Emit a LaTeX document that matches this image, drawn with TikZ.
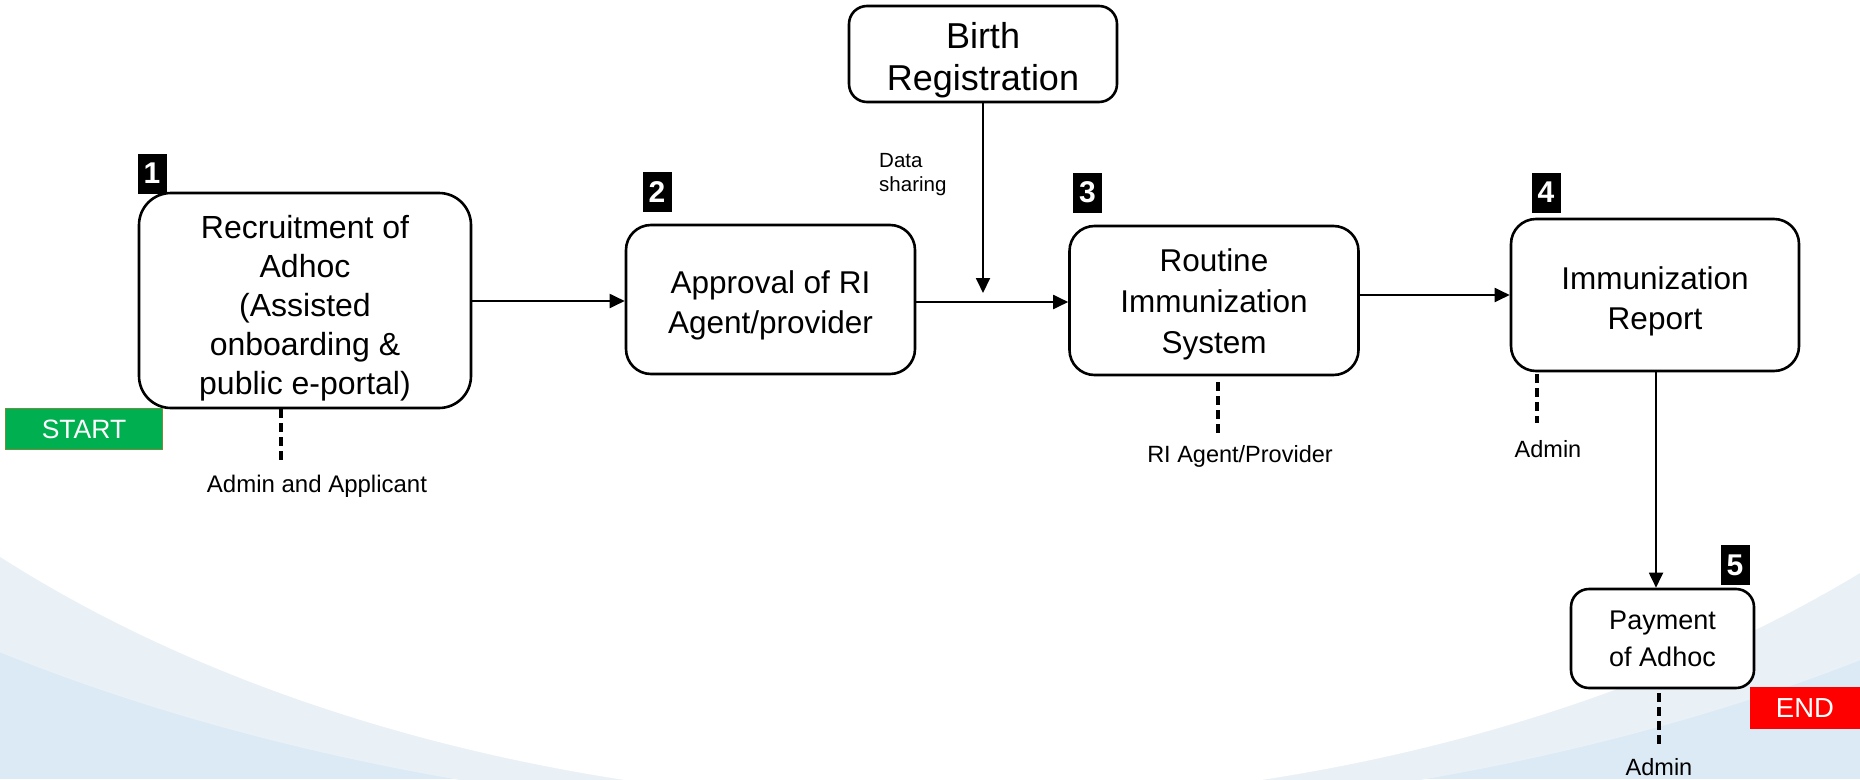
\documentclass[tikz,border=0pt]{standalone}
\usepackage{fontspec}
\setmainfont{Liberation Sans}
\usetikzlibrary{arrows.meta}
\definecolor{bandlight}{HTML}{E9F1F7}
\definecolor{banddark}{HTML}{DCEAF5}
\definecolor{startgreen}{HTML}{00B050}
\definecolor{startborder}{HTML}{6F8F3C}
\begin{document}
\begin{tikzpicture}[x=1pt,y=-1pt,
  procbox/.style={draw=black, line width=2.6pt, fill=white, inner sep=0pt},
  boxtext/.style={align=center, inner sep=0pt, font=\fontsize{31.5}{40}\selectfont},
  badge/.style={fill=black, text=white, inner sep=0pt, minimum width=29pt, minimum height=40pt,
    font=\fontsize{30}{30}\selectfont\bfseries},
  lbl/.style={inner sep=0pt, font=\fontsize{23.5}{27}\selectfont},
  flow/.style={line width=1.9pt, -{Triangle[length=15pt,width=14pt]}},
  role/.style={line width=3.5pt, dash pattern=on 9pt off 5pt},
  tag/.style={inner sep=0pt, text=white}]
\useasboundingbox (0,0) rectangle (1860,779);
% background bands
\fill[banddark] (0,0) rectangle (1860,779);
\fill[bandlight] (940,0) ellipse [x radius=1551, y radius=820];
\fill[white] (943,0) ellipse [x radius=1307, y radius=804];
% process boxes
\node[procbox, rounded corners=32pt, minimum width=332pt, minimum height=215pt] (b1) at (305,300.5) {};
\node[boxtext, font=\fontsize{32}{39}\selectfont] (t1) at ([yshift=-8pt]b1.center)
  {Recruitment of\\Adhoc\\(Assisted\\onboarding \&\\public e-portal)};
\node[procbox, rounded corners=25pt, minimum width=289pt, minimum height=149pt] (b2) at (770.5,299.5) {};
\node[boxtext] (t2) at ([yshift=-6pt]b2.center) {Approval of RI\\Agent/provider};
\node[procbox, rounded corners=25pt, minimum width=289pt, minimum height=149pt] (b3) at (1214,300.5) {};
\node[boxtext, font=\fontsize{31.5}{41}\selectfont] (t3) at ([yshift=-4pt]b3.center) {Routine\\Immunization\\System};
\node[procbox, rounded corners=25pt, minimum width=288pt, minimum height=152pt] (b4) at (1655,295) {};
\node[boxtext] (t4) at ([yshift=-6pt]b4.center) {Immunization\\Report};
\node[procbox, rounded corners=18pt, minimum width=268pt, minimum height=96pt] (birth) at (983,54) {};
\node[boxtext, font=\fontsize{36}{42}\selectfont] (tb) at ([yshift=-6pt]birth.center) {Birth\\Registration};
\node[procbox, rounded corners=18pt, minimum width=183pt, minimum height=99pt] (b5) at (1662.5,638.5) {};
\node[boxtext, font=\fontsize{27}{37}\selectfont] (t5) at (b5.center) {Payment\\of Adhoc};
% badges
\node[badge] (n1) at (152,173.5) {1};
\node[badge] (n2) at (657,192) {2};
\node[badge] (n3) at (1087.5,192.5) {3};
\node[badge] (n4) at (1546,192.5) {4};
\node[badge] (n5) at (1735,565) {5};
% start / end
\node[tag, fill=startgreen, draw=startborder, line width=1.5pt, minimum width=157pt, minimum height=41pt,
  font=\fontsize{26.5}{26.5}\selectfont] (start) at (84,429) {START};
\node[tag, fill=red, minimum width=111pt, minimum height=42pt,
  font=\fontsize{27.5}{27.5}\selectfont] (end) at (1805,708) {END};
% flows
\draw[flow] (b1.east |- 0,301) -- (b2.west |- 0,301);
\draw[flow] (b2.east |- 0,302) -- (b3.west |- 0,302);
\coordinate (join) at (983,293);
\draw[flow] (birth.south) -- (join);
\draw[flow] (b3.east |- b4.west) -- (b4.west);
\draw[flow] (b4.south -| 1656,0) -- (b5.north -| 1656,0);
% data sharing label
\node[lbl, font=\fontsize{20.5}{24}\selectfont, align=left, anchor=west] (ds) at (879,175) {Data\\sharing};
% roles
\coordinate (r1a) at (281,409); \coordinate (r1b) at (281,460);
\draw[role] (r1a) -- (r1b);
\node[lbl, font=\fontsize{24}{27}\selectfont] (l1) at (317,486) {Admin and Applicant};
\coordinate (r3a) at (1218,382); \coordinate (r3b) at (1218,434);
\draw[role] (r3a) -- (r3b);
\node[lbl] (l3) at (1240,456) {RI Agent/Provider};
\coordinate (r4a) at (1537,374); \coordinate (r4b) at (1537,423);
\draw[role] (r4a) -- (r4b);
\node[lbl] (l4) at (1548,449) {Admin};
\coordinate (r5a) at (1659,693); \coordinate (r5b) at (1659,745);
\draw[role] (r5a) -- (r5b);
\node[lbl] (l5) at (1659,767) {Admin};
\end{tikzpicture}
\end{document}
